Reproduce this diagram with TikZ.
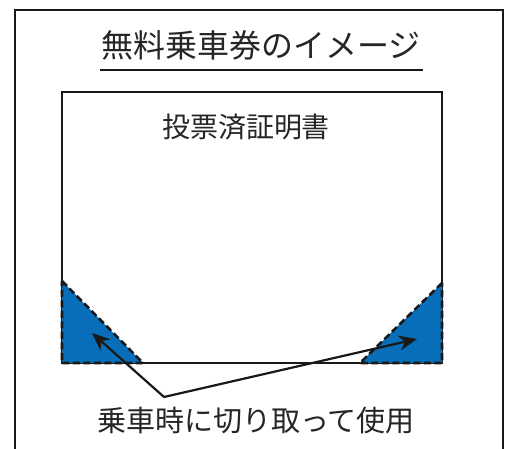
\documentclass[tikz,border=0pt]{standalone}
\usepackage{fontspec}
\newfontfamily\jp{Noto Sans CJK JP}
\usetikzlibrary{arrows.meta}
\definecolor{ticketblue}{RGB}{8,110,185}
\tikzset{
  frame/.style={draw=black!90, line width=2.2pt},
  ticket/.style={draw=black!90, line width=2.6pt},
  corner/.style={fill=ticketblue, draw=black!90, line width=2.6pt, dash pattern=on 7pt off 3.5pt},
  label/.style={font=\jp, text=black!85, inner sep=0pt},
  pointer/.style={draw=black!90, line width=2.2pt, -{Stealth[length=18pt,width=15pt]}}
}
\begin{document}
\begin{tikzpicture}[x=1pt,y=-1pt]
\useasboundingbox (0,0) rectangle (507,449);
\fill[white] (0,0) rectangle (507,449);
% outer frame (bottom is cut off)
\draw[frame] (15,452) -- (15,10) -- (503,10) -- (503,452);
% title
\node[label, font=\jp\fontsize{32}{32}\selectfont] (title) at (261,45) {無料乗車券のイメージ};
\draw[frame] (100,70) -- (423,70);
% ticket
\draw[ticket] (62,363) -- (62,92) -- (442,92) -- (442,363) -- cycle;
\node[label, font=\jp\fontsize{28}{28}\selectfont] (head) at (246,127) {投票済証明書};
% corners
\path[corner] (62,281) -- (143,363) -- (62,363) -- cycle;
\path[corner] (442,283) -- (360,363) -- (442,363) -- cycle;
% caption and pointers
\node[label, font=\jp\fontsize{29}{29}\selectfont] (cap) at (256,421) {乗車時に切り取って使用};
\coordinate (v) at (164,397);
\coordinate (tl) at (92,333);
\coordinate (tr) at (417,339);
\draw[pointer] (v) -- (tl);
\draw[pointer] (v) -- (tr);
\end{tikzpicture}
\end{document}
